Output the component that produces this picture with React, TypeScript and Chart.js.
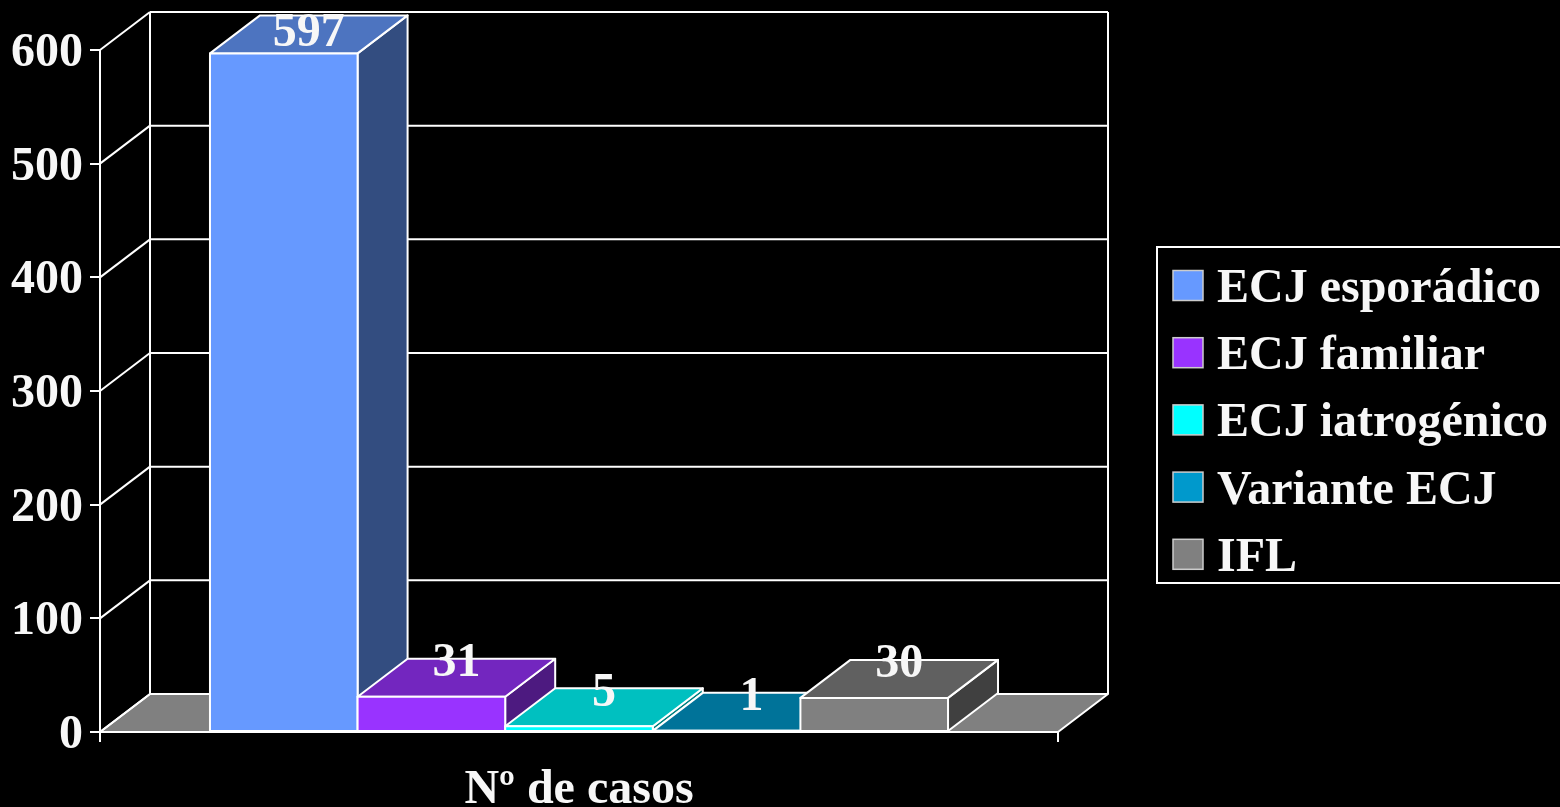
import React, { useEffect, useRef } from "react";
import { Chart, registerables } from "chart.js";

Chart.register(...registerables);

// ---- data ----
const categories = ["Nº de casos"];
const seriesLabels = ["ECJ esporádico", "ECJ familiar", "ECJ iatrogénico", "Variante ECJ", "IFL"];
const seriesValues = [597, 31, 5, 1, 30];
const frontColors = ["#6699FF", "#9933FF", "#00FFFF", "#0099CC", "#808080"];
const topColors = ["#4D74C0", "#7326BF", "#00C0C0", "#007399", "#606060"];
const sideColors = ["#334D80", "#4D1A80", "#008080", "#004D66", "#404040"];
const yTicks = { min: 0, max: 600, step: 100 };
const axisTitle = "Nº de casos";

const FONT = '"Liberation Serif", "Times New Roman", serif';
const TEXT = "#f7f7f7";
const FLOOR = "#808080";
const DX = 50;
const DY = -38;

type Pt = [number, number];

function poly(ctx: CanvasRenderingContext2D, pts: Pt[], fill: string | null) {
  ctx.beginPath();
  ctx.moveTo(pts[0][0], pts[0][1]);
  for (let i = 1; i < pts.length; i++) ctx.lineTo(pts[i][0], pts[i][1]);
  ctx.closePath();
  if (fill) {
    ctx.fillStyle = fill;
    ctx.fill();
  }
  ctx.stroke();
}

function line(ctx: CanvasRenderingContext2D, x1: number, y1: number, x2: number, y2: number) {
  ctx.beginPath();
  ctx.moveTo(x1, y1);
  ctx.lineTo(x2, y2);
  ctx.stroke();
}

const depthPlugin = {
  id: "depth3d",
  beforeDatasetsDraw(chart: any) {
    const ctx: CanvasRenderingContext2D = chart.ctx;
    const ys = chart.scales.y;
    const area = chart.chartArea;
    const y0 = ys.getPixelForValue(0);
    const yTop = ys.getPixelForValue(yTicks.max);
    ctx.save();
    ctx.lineWidth = 2;
    ctx.strokeStyle = "#ffffff";
    ctx.lineJoin = "round";

    // floor
    poly(
      ctx,
      [
        [area.left, y0],
        [area.right, y0],
        [area.right + DX, y0 + DY],
        [area.left + DX, y0 + DY],
      ],
      FLOOR
    );

    // back wall + left wall grid lines
    ys.ticks.forEach((t: any) => {
      const y = ys.getPixelForValue(t.value);
      line(ctx, area.left + DX, y + DY, area.right + DX, y + DY);
      line(ctx, area.left, y, area.left + DX, y + DY);
    });
    line(ctx, area.left + DX, yTop + DY, area.left + DX, y0 + DY);
    line(ctx, area.right + DX, yTop + DY, area.right + DX, y0 + DY);
    // front axis & category tick marks
    line(ctx, area.left, yTop, area.left, y0 + 10);
    line(ctx, area.right, y0, area.right, y0 + 10);

    // bars
    const labelsToDraw: { x: number; y: number; text: string }[] = [];
    chart.data.datasets.forEach((ds: any, i: number) => {
      const meta = chart.getDatasetMeta(i);
      meta.data.forEach((el: any, j: number) => {
        const { x, y, base, width } = el.getProps(["x", "y", "base", "width"], true);
        const x0 = x - width / 2;
        const x1 = x + width / 2;
        // side
        poly(
          ctx,
          [
            [x1, y],
            [x1 + DX, y + DY],
            [x1 + DX, base + DY],
            [x1, base],
          ],
          sideColors[i]
        );
        // top
        poly(
          ctx,
          [
            [x0, y],
            [x0 + DX, y + DY],
            [x1 + DX, y + DY],
            [x1, y],
          ],
          topColors[i]
        );
        // front
        poly(
          ctx,
          [
            [x0, y],
            [x1, y],
            [x1, base],
            [x0, base],
          ],
          frontColors[i]
        );
        labelsToDraw.push({
          x: x + DX / 2,
          y: Math.max(y + DY + 5, 33.5),
          text: String(ds.data[j]),
        });
      });
    });

    ctx.fillStyle = TEXT;
    ctx.font = `bold 48px ${FONT}`;
    ctx.textAlign = "center";
    ctx.textBaseline = "middle";
    labelsToDraw.forEach((l) => ctx.fillText(l.text, l.x, l.y));
    ctx.restore();
    return false;
  },
  afterDraw(chart: any) {
    const ctx: CanvasRenderingContext2D = chart.ctx;
    ctx.save();
    ctx.strokeStyle = "#ffffff";
    ctx.lineWidth = 2;
    ctx.strokeRect(1157, 247, 440, 336);
    ctx.font = `bold 48px ${FONT}`;
    ctx.textAlign = "left";
    ctx.textBaseline = "middle";
    chart.data.datasets.forEach((ds: any, i: number) => {
      const cy = 285.5 + i * 67.2;
      ctx.fillStyle = frontColors[i];
      ctx.fillRect(1173, cy - 15, 30, 30);
      ctx.strokeStyle = "#cccccc";
      ctx.lineWidth = 1.5;
      ctx.strokeRect(1173, cy - 15, 30, 30);
      ctx.fillStyle = TEXT;
      ctx.fillText(ds.label, 1217, cy + 4);
    });
    ctx.restore();
  },
};

export default function App() {
  const ref = useRef<HTMLCanvasElement | null>(null);

  useEffect(() => {
    if (!ref.current) return;
    const chart = new Chart(ref.current, {
      type: "bar",
      data: {
        labels: categories,
        datasets: seriesLabels.map((label, i) => ({
          label,
          data: [seriesValues[i]],
          backgroundColor: frontColors[i],
          borderColor: "#ffffff",
          borderWidth: 2,
          categoryPercentage: 0.7704,
          barPercentage: 1,
        })),
      },
      options: {
        responsive: false,
        animation: false,
        layout: { padding: { left: 11, top: 50, right: 502, bottom: 0 } },
        plugins: {
          legend: { display: false },
          tooltip: { enabled: false },
        },
        scales: {
          x: {
            type: "category",
            grid: { display: false, drawTicks: false },
            border: { display: false },
            ticks: { display: false },
            title: {
              display: true,
              text: axisTitle,
              color: TEXT,
              font: { family: FONT, size: 48, weight: "bold", lineHeight: 0.7 },
              padding: { top: 0, bottom: 0 },
            },
            afterFit: (s: any) => {
              s.height = 75;
            },
          },
          y: {
            min: yTicks.min,
            max: yTicks.max,
            ticks: {
              stepSize: yTicks.step,
              color: TEXT,
              padding: 7,
              labelOffset: 3.5,
              font: { family: FONT, size: 48, weight: "bold" },
            },
            grid: {
              display: true,
              drawOnChartArea: false,
              drawTicks: true,
              tickLength: 10,
              color: "#ffffff",
              lineWidth: 2,
            },
            border: { display: true, color: "#ffffff", width: 2 },
            afterFit: (s: any) => {
              s.width = 89;
            },
          },
        },
      },
      plugins: [depthPlugin],
    } as any);
    return () => chart.destroy();
  }, []);

  return (
    <div
      style={{
        position: "fixed",
        left: 0,
        top: 0,
        width: 1560,
        height: 807,
        background: "#000",
      }}
    >
      <canvas ref={ref} width={1560} height={807} style={{ display: "block" }} />
    </div>
  );
}
